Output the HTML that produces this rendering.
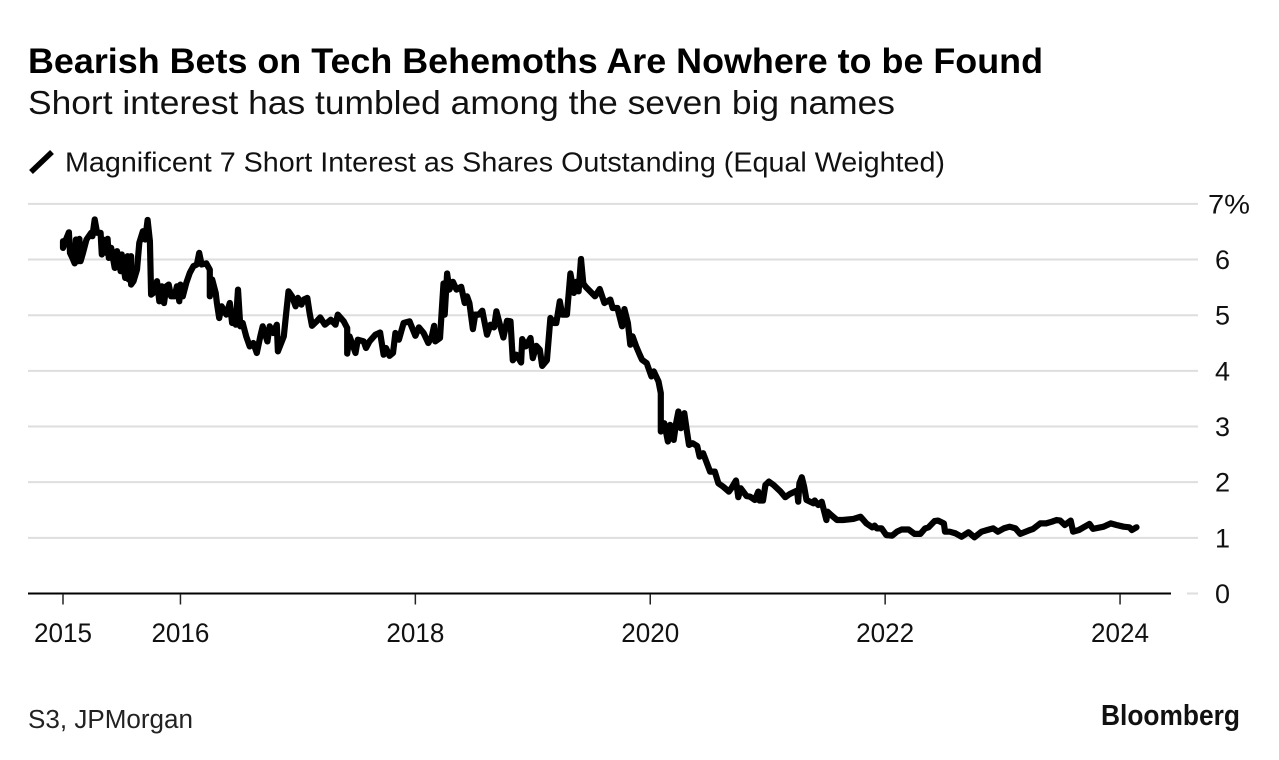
<!DOCTYPE html>
<html lang="en">
<head>
<meta charset="utf-8">
<title>Bearish Bets on Tech Behemoths Are Nowhere to be Found</title>
<style>
html,body{margin:0;padding:0;background:#fff;}
svg{display:block;font-family:"Liberation Sans",Arial,sans-serif;}
</style>
</head>
<body>
<svg id="chart" xmlns="http://www.w3.org/2000/svg" width="1279" height="760" viewBox="0 0 1279 760">
  <rect x="0" y="0" width="1279" height="760" fill="#fff"/>
  <text x="28" y="73" font-size="35.5" font-weight="700" fill="#000" textLength="1015" lengthAdjust="spacingAndGlyphs">Bearish Bets on Tech Behemoths Are Nowhere to be Found</text>
  <text x="28" y="114" font-size="33.5" fill="#111" textLength="867" lengthAdjust="spacingAndGlyphs">Short interest has tumbled among the seven big names</text>
  <line x1="31" y1="172" x2="52" y2="152" stroke="#000" stroke-width="5.5"/>
  <text x="65" y="171.5" font-size="27.5" fill="#111" textLength="880" lengthAdjust="spacingAndGlyphs">Magnificent 7 Short Interest as Shares Outstanding (Equal Weighted)</text>
  <g id="grid"></g>
  <g id="y-labels"></g>
  <line x1="28" y1="593.5" x2="1171" y2="593.5" stroke="#000" stroke-width="2"/>
  <g id="x-axis"></g>
  <path id="series-line" fill="none" stroke="#000" stroke-width="6.2" stroke-linejoin="round" stroke-linecap="round"/>
  <text x="28" y="728" font-size="25.5" fill="#222" textLength="165" lengthAdjust="spacingAndGlyphs">S3, JPMorgan</text>
  <text x="1101" y="725" font-size="29" font-weight="700" fill="#111" textLength="139" lengthAdjust="spacingAndGlyphs">Bloomberg</text>
</svg>
<script>
const xTickYears = [2015, 2016, 2018, 2020, 2022, 2024];
const yTickValues = [0, 1, 2, 3, 4, 5, 6, 7];
const yTickLabels = ["0", "1", "2", "3", "4", "5", "6", "7%"];
const yearsSince2015 = [
0,0,.02,.05,.06,.08,.10,.11,.13,.14,.15,.17,.20,.24,.25,.27,.29,.32,.33,.34,.37,.38,.39,.41,.44,.46,.49,.50,.53,.55,.56,.58,.58,.60,.63,.65,.68,.70,.72,.74,.75,.77,.80,.82,.84,.86,.88,.90,.92,.95,.97,.99,
1.00,1.02,1.05,1.08,1.11,1.14,1.16,1.18,1.22,1.25,1.25,1.27,1.30,1.31,1.33,1.35,1.39,1.42,1.44,1.46,1.47,1.49,1.51,1.53,1.56,1.59,1.62,1.65,1.68,1.70,1.74,1.76,1.79,1.82,1.83,1.88,1.90,1.92,1.95,1.98,
2.00,2.03,2.05,2.08,2.10,2.12,2.16,2.19,2.23,2.28,2.32,2.34,2.39,2.42,2.42,2.44,2.49,2.51,2.56,2.58,2.61,2.66,2.70,2.73,2.75,2.78,2.81,2.83,2.86,2.90,2.95,
3.00,3.03,3.07,3.11,3.14,3.16,3.17,3.21,3.24,3.25,3.27,3.29,3.32,3.35,3.39,3.42,3.44,3.46,3.49,3.51,3.54,3.57,3.61,3.64,3.67,3.69,3.72,3.75,3.78,3.81,3.83,3.86,3.90,3.91,3.94,3.98,
4.00,4.03,4.06,4.08,4.12,4.15,4.18,4.20,4.23,4.25,4.29,4.32,4.35,4.37,4.39,4.41,4.43,4.45,4.53,4.57,4.61,4.66,4.68,4.72,4.76,4.78,4.81,4.83,4.85,4.88,4.91,4.93,4.97,
5.01,5.03,5.07,5.09,5.09,5.12,5.15,5.17,5.20,5.22,5.24,5.26,5.29,5.31,5.33,5.36,5.40,5.42,5.45,5.51,5.55,5.58,5.62,5.67,5.69,5.73,5.75,5.77,5.82,5.85,5.89,5.92,5.93,5.96,5.98,
6.01,6.05,6.11,6.15,6.19,6.25,6.26,6.27,6.29,6.31,6.33,6.39,6.40,6.43,6.46,6.50,6.51,6.54,6.59,6.64,6.73,6.79,6.84,6.89,6.91,6.93,6.97,
7.01,7.06,7.10,7.14,7.20,7.25,7.30,7.34,7.37,7.42,7.45,7.50,7.51,7.55,7.60,7.65,7.71,7.76,7.82,7.87,7.92,7.96,
8.01,8.06,8.11,8.15,8.22,8.26,8.32,8.37,8.42,8.46,8.49,8.53,8.58,8.60,8.65,8.69,8.74,8.77,8.86,8.92,8.97,
9.03,9.08,9.10,9.14
];
const shortInterest = [
6.33,6.21,6.33,6.49,6.12,6.03,5.93,6.36,5.97,6.37,5.97,6.12,6.36,6.48,6.42,6.72,6.48,6.48,6.09,6.36,6.12,6.37,6.03,6.21,5.85,6.15,5.79,6.09,5.67,6.06,5.64,6.06,5.55,5.61,5.82,6.30,6.51,6.36,6.71,6.33,5.37,5.40,5.61,5.25,5.52,5.22,5.52,5.55,5.34,5.34,5.52,5.25,
5.55,5.34,5.58,5.76,5.88,5.91,6.12,5.91,5.93,5.82,5.34,5.64,5.40,5.22,4.95,5.16,5.01,5.22,4.86,5.04,4.83,5.46,4.80,4.86,4.62,4.44,4.50,4.32,4.62,4.80,4.53,4.80,4.68,4.83,4.35,4.62,5.04,5.43,5.34,5.16,
5.31,5.19,5.28,5.31,5.04,4.81,4.89,4.96,4.83,4.92,4.83,5.01,4.89,4.77,4.31,4.62,4.32,4.56,4.53,4.41,4.53,4.65,4.69,4.29,4.41,4.27,4.32,4.68,4.56,4.86,4.89,
4.63,4.78,4.68,4.50,4.62,4.81,4.53,4.59,5.57,5.01,5.75,5.46,5.60,5.46,5.51,5.22,5.34,5.22,4.75,5.01,5.01,5.08,4.65,4.83,4.78,5.07,4.83,4.60,4.90,4.89,4.19,4.29,4.15,4.57,4.44,4.59,
4.23,4.45,4.38,4.09,4.19,4.95,4.86,4.86,5.25,5.01,5.01,5.75,5.40,5.60,5.43,6.01,5.57,5.51,5.34,5.47,5.22,5.28,5.13,5.13,4.80,5.11,4.86,4.47,4.62,4.44,4.29,4.20,4.14,
3.90,3.99,3.81,3.60,2.91,3.06,2.73,3.03,2.76,3.06,3.27,2.97,3.24,2.94,2.67,2.70,2.65,2.46,2.52,2.19,2.19,1.98,1.92,1.83,1.89,2.03,1.73,1.89,1.75,1.74,1.68,1.83,1.67,1.67,1.95,
2.01,1.95,1.83,1.73,1.79,1.85,1.65,1.98,2.09,1.92,1.68,1.62,1.67,1.59,1.65,1.32,1.47,1.41,1.32,1.32,1.34,1.38,1.26,1.19,1.22,1.17,1.17,
1.05,1.04,1.11,1.15,1.15,1.07,1.07,1.17,1.19,1.30,1.31,1.26,1.11,1.11,1.08,1.02,1.10,1.01,1.11,1.14,1.17,1.11,
1.17,1.20,1.17,1.07,1.13,1.16,1.26,1.26,1.29,1.32,1.31,1.23,1.31,1.11,1.14,1.19,1.25,1.16,1.20,1.26,1.23,
1.20,1.19,1.14,1.19
];

const SVGNS = "http://www.w3.org/2000/svg";
function xScale(year) { return 63 + (year - 2015) * 117.45; }
function yScale(value) { return 593.5 - value * 55.66; }
function make(tag, parent) {
  const el = document.createElementNS(SVGNS, tag);
  parent.appendChild(el);
  return el;
}

const gridGroup = document.getElementById("grid");
const yLabelGroup = document.getElementById("y-labels");
yTickValues.forEach(function (value, i) {
  const g = make("line", gridGroup);
  
  
  g.setAttribute("x1", value === 0 ? 1187 : 28);
  g.setAttribute("x2", 1198);
  g.setAttribute("y1", yScale(value));
  g.setAttribute("y2", yScale(value));
  g.setAttribute("stroke", "#dedede");
  g.setAttribute("stroke-width", "2");

  const t = make("text", yLabelGroup);
  
  
  t.setAttribute("x", value === 7 ? 1208 : 1215);
  t.setAttribute("y", yScale(value) + 9.5);
  t.setAttribute("font-size", "27");
  t.setAttribute("fill", "#111");
  if (value === 7) {
    t.setAttribute("textLength", "42");
    t.setAttribute("lengthAdjust", "spacingAndGlyphs");
  }
  t.textContent = yTickLabels[i];
});

const xGroup = document.getElementById("x-axis");
xTickYears.forEach(function (year) {
  const tick = make("line", xGroup);
  
  
  tick.setAttribute("x1", xScale(year));
  tick.setAttribute("x2", xScale(year));
  tick.setAttribute("y1", 594);
  tick.setAttribute("y2", 604.5);
  tick.setAttribute("stroke", "#222");
  tick.setAttribute("stroke-width", "1.5");

  const label = make("text", xGroup);
  
  
  label.setAttribute("x", xScale(year));
  label.setAttribute("y", 642);
  label.setAttribute("text-anchor", "middle");
  label.setAttribute("font-size", "27");
  label.setAttribute("fill", "#111");
  label.setAttribute("textLength", "58");
  label.setAttribute("lengthAdjust", "spacingAndGlyphs");
  label.textContent = String(year);
});

const pathData = yearsSince2015.map(function (t, i) {
  return (i === 0 ? "M" : "L") + xScale(2015 + t).toFixed(1) + " " + yScale(shortInterest[i]).toFixed(1);
}).join(" ");
document.getElementById("series-line").setAttribute("d", pathData);
</script>
</body>
</html>
